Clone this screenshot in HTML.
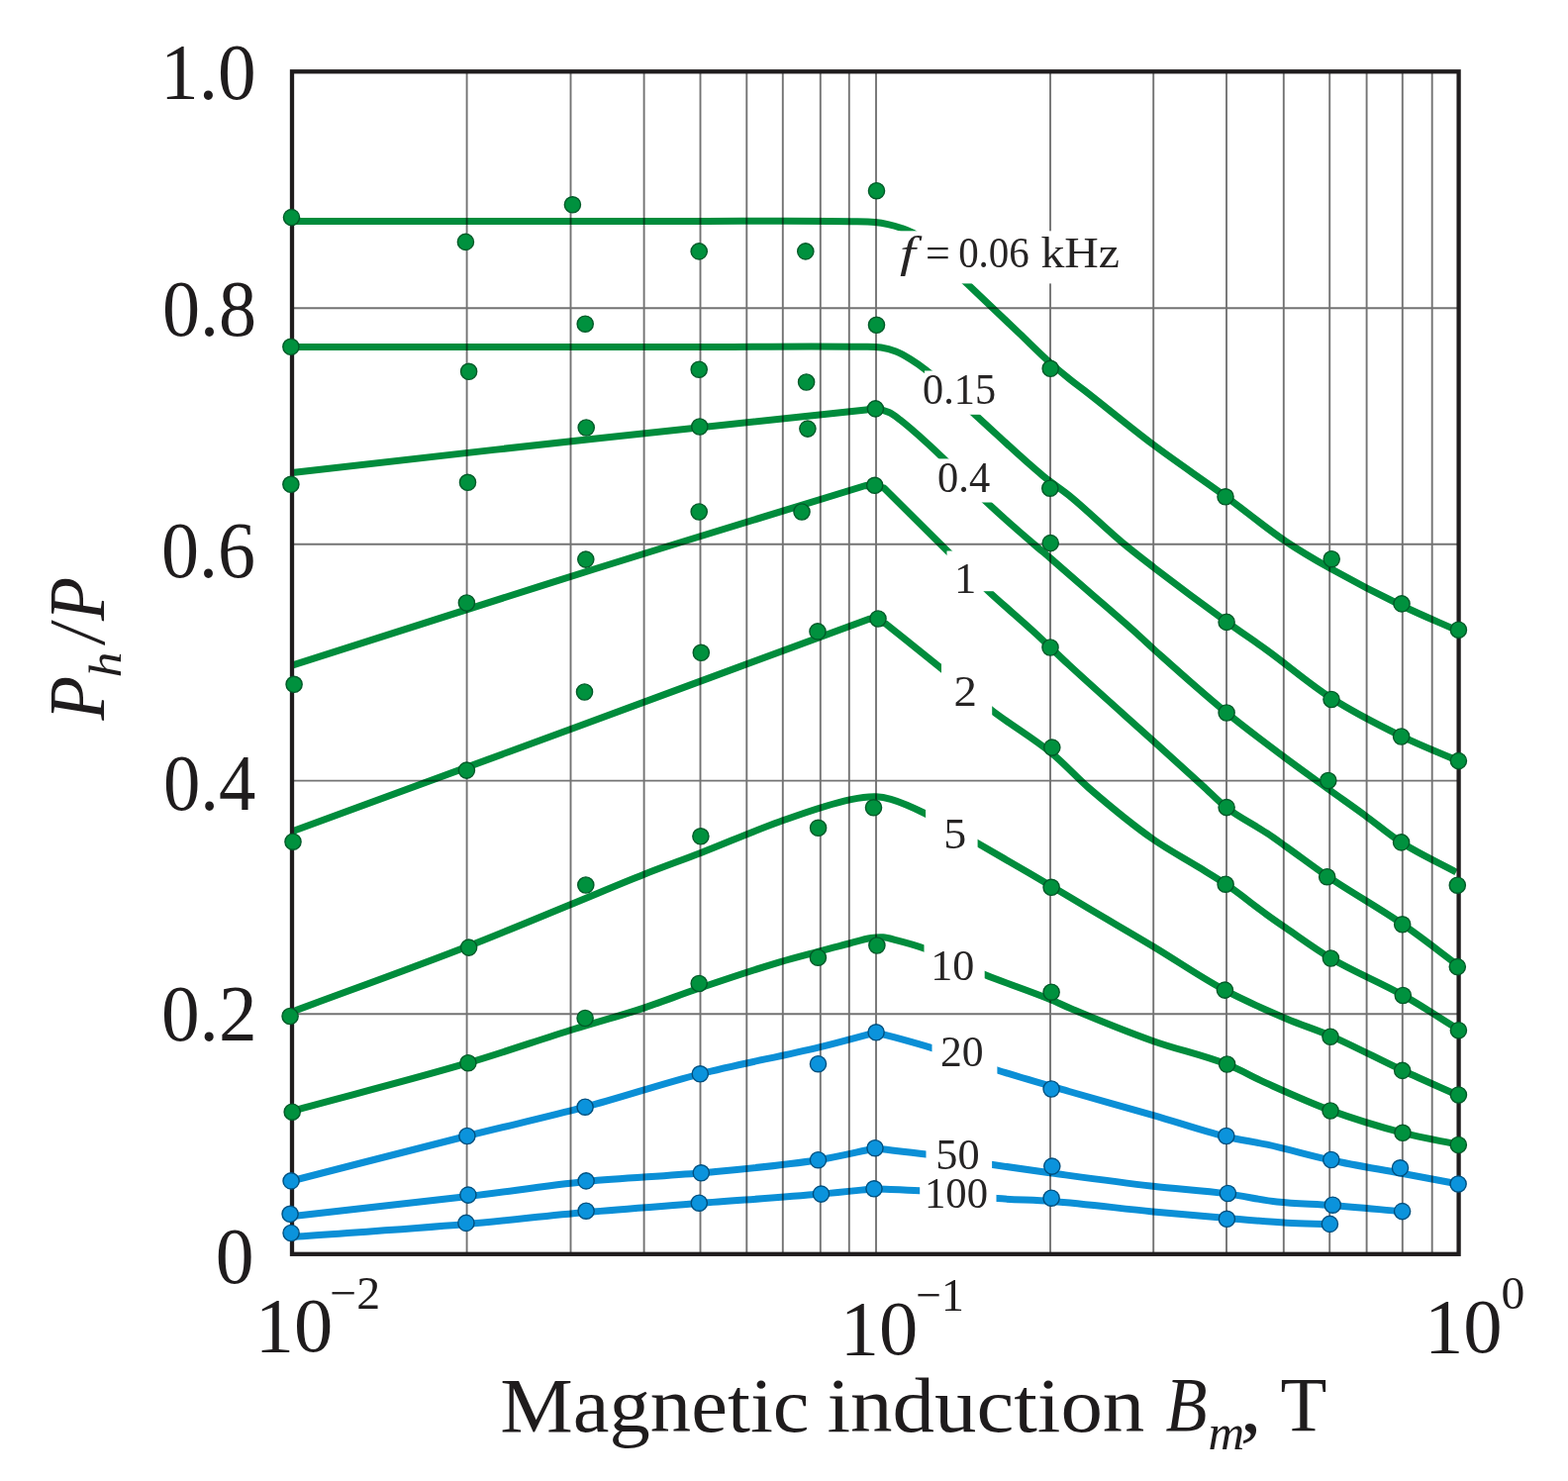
<!DOCTYPE html>
<html><head><meta charset="utf-8"><title>Ph/P versus magnetic induction</title>
<style>
html,body{margin:0;padding:0;background:#fff;}
body{width:1584px;height:1496px;overflow:hidden;}
svg{display:block;}
</style></head>
<body>
<svg width="1584" height="1496" viewBox="0 0 1584 1496">
<rect width="1584" height="1496" fill="#fff"/>
<g fill="none" stroke="#008c3c" stroke-width="7.0" stroke-linejoin="round">
<path d="M295.0 223.4 C430.0 223.4 565.0 223.4 700.0 223.5 C753.3 223.5 806.7 222.7 860.0 223.7 C868.0 223.9 876.0 223.8 884.0 224.6 C888.4 225.0 892.7 225.7 897.0 226.6 C901.4 227.5 905.8 228.7 910.0 230.2 C915.1 232.0 920.5 233.8 925.0 236.8 C945.0 250.2 959.8 270.2 977.2 286.8 C994.8 303.6 1012.4 320.3 1030.0 337.0 C1040.3 346.8 1050.4 357.0 1061.0 366.5 C1067.2 372.0 1073.5 377.3 1080.0 382.5 C1084.9 386.4 1090.0 390.1 1095.0 394.0 C1118.5 412.3 1141.4 431.4 1165.2 449.3 C1189.1 467.3 1214.1 483.8 1238.2 501.5 C1258.6 516.4 1278.0 532.8 1299.0 547.0 C1313.4 556.7 1328.5 565.5 1343.6 574.0 C1367.5 587.4 1391.9 600.1 1416.6 612.0 C1435.3 621.1 1454.6 629.0 1473.6 637.5"/>
<path d="M295.0 350.6 C430.0 350.6 565.0 350.6 700.0 350.5 C756.7 350.5 813.3 349.3 870.0 350.3 C876.7 350.4 883.4 350.0 890.0 351.0 C895.1 351.8 900.2 353.1 905.0 355.0 C910.3 357.1 915.2 360.0 920.0 363.0 C925.6 366.4 930.9 370.2 936.0 374.3 C953.2 388.1 968.6 404.0 985.0 418.8 C1008.0 439.6 1030.1 461.3 1054.0 481.0 C1062.4 487.9 1071.6 493.7 1080.0 500.5 C1098.7 515.8 1115.8 533.0 1134.3 548.5 C1144.4 556.9 1154.8 564.9 1165.2 572.9 C1189.6 591.6 1214.3 610.0 1239.2 628.1 C1252.7 637.9 1266.5 647.1 1280.0 656.8 C1302.0 672.7 1322.6 690.9 1345.5 705.5 C1367.9 719.8 1391.7 731.9 1415.6 743.6 C1434.5 752.8 1454.3 760.4 1473.6 768.8"/>
<path d="M295.0 477.4 C396.7 466.0 498.3 454.3 600.0 443.2 C691.6 433.2 783.3 423.7 875.0 414.0 C878.2 413.7 881.3 412.8 884.5 413.0 C889.1 413.3 893.8 414.6 898.0 416.5 C902.1 418.3 905.6 421.3 909.2 424.0 C924.3 435.7 938.2 448.9 952.0 462.0 C967.5 476.7 981.5 492.8 997.0 507.5 C1012.3 522.0 1028.3 535.7 1044.2 549.5 C1049.8 554.4 1055.6 559.1 1061.3 564.0 C1072.7 573.8 1084.0 583.7 1095.3 593.6 C1113.0 609.1 1130.9 624.3 1148.4 640.0 C1154.1 645.1 1159.5 650.4 1165.2 655.5 C1189.6 677.3 1213.9 699.3 1239.2 720.0 C1258.0 735.4 1277.5 749.9 1296.9 764.4 C1311.9 775.6 1327.2 786.5 1342.4 797.5 C1354.6 806.3 1366.9 814.8 1379.0 823.7 C1391.3 832.7 1402.8 842.8 1415.6 851.0 C1433.3 862.3 1452.5 871.0 1471.0 881.0"/>
<path d="M295.0 672.1 C396.7 639.7 498.2 606.9 600.0 575.0 C691.3 546.4 782.9 518.7 874.3 490.5 C880.5 491.3 886.8 492.2 893.0 493.0 C914.5 514.3 935.9 535.7 957.5 557.0 C971.1 570.4 984.5 584.1 998.5 597.2 C1014.1 611.8 1030.6 625.5 1046.3 640.0 C1057.7 650.5 1068.6 661.3 1080.0 671.8 C1108.1 697.7 1136.8 723.0 1165.2 748.6 C1181.8 763.6 1198.3 778.6 1214.8 793.6 C1223.0 801.0 1230.4 809.3 1239.2 816.0 C1252.0 825.8 1266.6 832.8 1280.0 841.7 C1286.3 845.9 1292.5 850.4 1298.7 854.8 C1313.1 865.0 1327.1 875.8 1341.7 885.7 C1366.2 902.3 1392.2 916.6 1416.6 933.4 C1435.8 946.6 1454.0 961.1 1472.7 975.0"/>
<path d="M296.0 839.5 C390.7 804.7 485.4 770.0 580.0 735.2 C679.4 698.6 778.7 661.9 878.1 625.2 C883.6 626.8 889.1 628.4 894.6 630.0 C913.4 645.1 932.3 660.1 951.0 675.3 C968.3 689.4 984.8 704.4 1002.5 718.0 C1022.0 733.0 1043.5 745.4 1062.6 761.0 C1075.8 771.8 1087.1 784.8 1100.0 796.0 C1121.0 814.2 1142.4 832.1 1165.2 848.0 C1179.9 858.3 1195.8 866.6 1211.0 876.0 C1220.4 881.8 1230.0 887.4 1239.2 893.7 C1253.2 903.3 1266.3 914.2 1280.0 924.1 C1286.2 928.6 1292.4 932.9 1298.7 937.2 C1313.9 947.6 1328.7 958.7 1344.5 968.0 C1368.1 981.9 1393.7 992.0 1417.5 1005.4 C1436.6 1016.2 1454.9 1028.5 1473.6 1040.0"/>
<path d="M294.0 1022.4 C353.9 1000.1 414.1 978.7 473.6 955.5 C509.3 941.6 544.6 926.7 580.0 912.2 C603.7 902.5 627.3 892.4 651.2 883.0 C670.0 875.6 689.1 868.8 708.0 861.5 C734.6 851.2 760.7 839.5 787.6 830.0 C811.3 821.6 835.0 812.7 859.6 807.6 C867.9 805.9 876.5 804.5 885.0 804.8 C890.1 805.0 895.1 806.0 900.0 807.4 C912.2 810.9 923.7 816.4 935.1 822.0 C953.3 830.9 970.4 841.9 988.0 852.0 C1012.7 866.2 1037.3 880.5 1061.8 895.0 C1074.6 902.5 1087.2 910.2 1100.0 917.8 C1121.7 930.7 1143.6 943.2 1165.2 956.2 C1189.3 970.7 1212.5 986.9 1237.3 1000.2 C1257.6 1011.0 1278.8 1020.2 1300.0 1029.2 C1314.7 1035.5 1330.0 1040.2 1344.7 1046.6 C1369.2 1057.2 1392.6 1070.0 1416.8 1081.2 C1435.3 1089.8 1454.0 1097.9 1472.6 1106.2"/>
<path d="M295.2 1122.2 C354.4 1106.0 414.0 1091.1 472.9 1073.7 C508.8 1063.1 544.2 1050.6 580.0 1039.5 C603.5 1032.2 627.2 1025.8 650.6 1018.1 C669.3 1011.9 687.6 1004.6 706.2 998.3 C733.2 989.1 760.3 980.0 787.6 971.8 C801.0 967.8 814.6 964.4 828.1 960.8 C838.1 958.1 848.1 955.6 858.1 953.0 C865.4 951.1 872.6 948.6 880.0 947.5 C884.0 946.9 888.0 946.5 892.0 946.8 C896.4 947.1 900.7 948.5 905.0 949.6 C914.6 952.0 924.2 954.6 933.5 958.0 C954.4 965.6 974.1 976.1 994.7 984.5 C1017.0 993.5 1039.9 1000.8 1062.1 1010.0 C1068.1 1012.5 1074.0 1015.5 1080.0 1018.0 C1108.1 1029.9 1136.4 1041.5 1165.2 1051.7 C1189.6 1060.4 1215.1 1065.6 1239.2 1075.1 C1253.2 1080.6 1266.3 1088.2 1280.0 1094.4 C1301.1 1103.9 1322.2 1113.6 1344.0 1121.6 C1368.1 1130.4 1392.7 1137.9 1417.5 1144.4 C1435.9 1149.2 1454.8 1152.3 1473.4 1156.2"/>
</g>
<g fill="none" stroke="#0b8fd6" stroke-width="7.0" stroke-linejoin="round">
<path d="M294.0 1193.0 C353.3 1177.8 412.5 1162.4 471.9 1147.5 C511.6 1137.5 551.6 1128.7 591.1 1118.2 C630.0 1107.8 668.3 1094.8 707.3 1084.8 C747.4 1074.5 788.3 1067.4 828.5 1057.6 C847.5 1053.0 866.2 1047.7 885.1 1042.8 C903.9 1048.1 922.8 1052.9 941.5 1058.7 C963.7 1065.6 985.3 1074.0 1007.4 1081.0 C1031.5 1088.6 1055.8 1095.5 1080.0 1102.5 C1108.4 1110.7 1136.8 1118.4 1165.2 1126.6 C1189.6 1133.6 1213.6 1142.1 1238.2 1148.1 C1252.0 1151.5 1266.1 1153.2 1280.0 1156.2 C1301.7 1160.9 1323.0 1167.3 1344.7 1172.0 C1367.9 1177.0 1391.3 1180.7 1414.6 1185.0 C1434.2 1188.7 1453.8 1192.3 1473.4 1196.0"/>
<path d="M296.0 1228.5 C355.0 1221.8 414.0 1215.5 472.9 1208.5 C512.7 1203.8 552.3 1197.5 592.1 1193.5 C630.7 1189.6 669.6 1188.4 708.3 1184.8 C747.8 1181.1 787.3 1177.8 826.5 1171.7 C845.8 1168.7 864.8 1163.9 884.0 1160.0 C901.2 1162.0 918.4 1163.7 935.5 1166.0 C958.0 1169.1 980.3 1173.1 1002.8 1176.5 C1022.7 1179.5 1042.6 1182.3 1062.5 1185.0 C1096.6 1189.6 1130.6 1194.3 1164.8 1198.3 C1189.7 1201.2 1214.8 1202.6 1239.6 1205.9 C1256.5 1208.1 1273.1 1212.1 1290.0 1214.0 C1308.4 1216.1 1326.9 1216.1 1345.4 1217.5 C1369.2 1219.3 1393.0 1221.7 1416.8 1223.8"/>
<path d="M296.0 1249.5 C354.3 1245.2 412.7 1241.5 470.9 1236.5 C511.3 1233.0 551.7 1228.1 592.1 1224.5 C630.1 1221.1 668.2 1218.5 706.3 1215.5 C747.4 1212.3 788.5 1209.7 829.5 1206.1 C847.4 1204.5 865.2 1202.6 883.0 1200.8 C898.4 1201.5 913.8 1201.7 929.2 1202.8 C955.4 1204.7 981.4 1208.6 1007.6 1210.6 C1025.9 1212.0 1044.2 1212.0 1062.5 1213.4 C1096.7 1216.0 1130.7 1220.6 1164.8 1223.9 C1189.7 1226.3 1214.7 1228.4 1239.6 1230.5 C1259.7 1232.2 1279.8 1234.1 1300.0 1235.2 C1314.4 1236.0 1328.8 1236.1 1343.2 1236.6"/>
</g>
<path d="M471.6 72.3V1266.8 M576.5 72.3V1266.8 M650.6 72.3V1266.8 M707.5 72.3V1266.8 M754.3 72.3V1266.8 M790.8 72.3V1266.8 M828.8 72.3V1266.8 M857.8 72.3V1266.8 M885.0 72.3V1266.8 M1061.0 72.3V1266.8 M1165.2 72.3V1266.8 M1239.0 72.3V1266.8 M1296.8 72.3V1266.8 M1343.2 72.3V1266.8 M1380.6 72.3V1266.8 M1416.8 72.3V1266.8 M1446.7 72.3V1266.8 M295.0 311.3H1473.6 M295.0 549.8H1473.6 M295.0 788.6H1473.6 M295.0 1024.2H1473.6" stroke="#000" stroke-opacity="0.55" stroke-width="1.9" fill="none"/>
<rect x="900" y="233.3" width="235.0" height="53.1" fill="#fff"/>
<rect x="934" y="374.5" width="74.0" height="44.3" fill="#fff"/>
<rect x="940" y="463.4" width="66.0" height="44.1" fill="#fff"/>
<rect x="956.5" y="556.5" width="53.5" height="40.7" fill="#fff"/>
<rect x="951" y="662" width="51.2" height="64.0" fill="#fff"/>
<rect x="935.1" y="810" width="52.5" height="54.0" fill="#fff"/>
<rect x="933.5" y="950" width="61.2" height="46.0" fill="#fff"/>
<rect x="941.5" y="1045" width="65.9" height="47.0" fill="#fff"/>
<rect x="935.5" y="1150" width="66.6" height="39.0" fill="#fff"/>
<rect x="929.2" y="1192" width="77.3" height="30.0" fill="#fff"/>
<rect x="295.0" y="72.3" width="1178.6" height="1194.5" fill="none" stroke="#1f1c1d" stroke-width="4.3"/>
<g fill="#00913e" stroke="#005a28" stroke-width="1.4">
<circle cx="294.5" cy="219.6" r="8.1"/>
<circle cx="470.4" cy="244.4" r="8.1"/>
<circle cx="578.4" cy="206.8" r="8.1"/>
<circle cx="706.2" cy="253.9" r="8.1"/>
<circle cx="813.8" cy="253.9" r="8.1"/>
<circle cx="885.5" cy="192.7" r="8.1"/>
<circle cx="1061.2" cy="372.3" r="8.1"/>
<circle cx="1238" cy="501.8" r="8.1"/>
<circle cx="1345.2" cy="564.7" r="8.1"/>
<circle cx="1416" cy="609.9" r="8.1"/>
<circle cx="1473.4" cy="636.2" r="8.1"/>
<circle cx="293.9" cy="350.3" r="8.1"/>
<circle cx="473.6" cy="375.3" r="8.1"/>
<circle cx="591.2" cy="327.2" r="8.1"/>
<circle cx="706.2" cy="373.2" r="8.1"/>
<circle cx="814.6" cy="386" r="8.1"/>
<circle cx="885.5" cy="328.3" r="8.1"/>
<circle cx="1060.8" cy="493.2" r="8.1"/>
<circle cx="1239.1" cy="628.4" r="8.1"/>
<circle cx="1345" cy="706.5" r="8.1"/>
<circle cx="1415.6" cy="744" r="8.1"/>
<circle cx="1473.4" cy="768.6" r="8.1"/>
<circle cx="293.9" cy="489.3" r="8.1"/>
<circle cx="472.5" cy="487.3" r="8.1"/>
<circle cx="592.2" cy="432" r="8.1"/>
<circle cx="706.8" cy="431" r="8.1"/>
<circle cx="815.9" cy="433.1" r="8.1"/>
<circle cx="884.4" cy="412.9" r="8.1"/>
<circle cx="1061.2" cy="548.6" r="8.1"/>
<circle cx="1239.1" cy="720" r="8.1"/>
<circle cx="1341.8" cy="788.5" r="8.1"/>
<circle cx="1415.6" cy="850.9" r="8.1"/>
<circle cx="1472.3" cy="894.2" r="8.1"/>
<circle cx="297.1" cy="691.3" r="8.1"/>
<circle cx="471.4" cy="609" r="8.1"/>
<circle cx="591.8" cy="565.1" r="8.1"/>
<circle cx="706.2" cy="517" r="8.1"/>
<circle cx="810" cy="517" r="8.1"/>
<circle cx="883.7" cy="490.3" r="8.1"/>
<circle cx="1061" cy="654" r="8.1"/>
<circle cx="1239.1" cy="815.6" r="8.1"/>
<circle cx="1340.7" cy="885.7" r="8.1"/>
<circle cx="1416.7" cy="933.8" r="8.1"/>
<circle cx="1472.3" cy="976.6" r="8.1"/>
<circle cx="296" cy="850.2" r="8.1"/>
<circle cx="471.4" cy="778.1" r="8.1"/>
<circle cx="590.5" cy="699" r="8.1"/>
<circle cx="708.3" cy="659.3" r="8.1"/>
<circle cx="826" cy="637.9" r="8.1"/>
<circle cx="887" cy="625" r="8.1"/>
<circle cx="1062.8" cy="755.1" r="8.1"/>
<circle cx="1238.1" cy="893.2" r="8.1"/>
<circle cx="1344.4" cy="968" r="8.1"/>
<circle cx="1417.3" cy="1005.5" r="8.1"/>
<circle cx="1473.4" cy="1040.7" r="8.1"/>
<circle cx="293.1" cy="1026.5" r="8.1"/>
<circle cx="473.6" cy="957.1" r="8.1"/>
<circle cx="591.8" cy="894" r="8.1"/>
<circle cx="707.9" cy="844.8" r="8.1"/>
<circle cx="826.6" cy="836.3" r="8.1"/>
<circle cx="882.5" cy="815.8" r="8.1"/>
<circle cx="1062.1" cy="896.3" r="8.1"/>
<circle cx="1237.4" cy="1000.1" r="8.1"/>
<circle cx="1344" cy="1047.2" r="8.1"/>
<circle cx="1416.7" cy="1081.4" r="8.1"/>
<circle cx="1473.4" cy="1106" r="8.1"/>
<circle cx="295.2" cy="1123.2" r="8.1"/>
<circle cx="472.9" cy="1073.7" r="8.1"/>
<circle cx="591.1" cy="1028.5" r="8.1"/>
<circle cx="706.2" cy="993.5" r="8.1"/>
<circle cx="826.4" cy="967.2" r="8.1"/>
<circle cx="885.9" cy="955" r="8.1"/>
<circle cx="1062.1" cy="1002.2" r="8.1"/>
<circle cx="1239.6" cy="1075" r="8.1"/>
<circle cx="1344" cy="1122" r="8.1"/>
<circle cx="1417" cy="1144.3" r="8.1"/>
<circle cx="1473.3" cy="1156.5" r="8.1"/>
</g>
<g fill="#0b93dc" stroke="#00507f" stroke-width="1.4">
<circle cx="294.1" cy="1192.9" r="8.1"/>
<circle cx="471.9" cy="1147.5" r="8.1"/>
<circle cx="591.1" cy="1118.2" r="8.1"/>
<circle cx="707.3" cy="1084.8" r="8.1"/>
<circle cx="826.5" cy="1074.7" r="8.1"/>
<circle cx="885.1" cy="1042.8" r="8.1"/>
<circle cx="1062.1" cy="1100" r="8.1"/>
<circle cx="1238.8" cy="1147.5" r="8.1"/>
<circle cx="1344.8" cy="1171.5" r="8.1"/>
<circle cx="1414.5" cy="1179.8" r="8.1"/>
<circle cx="1473.1" cy="1196" r="8.1"/>
<circle cx="293.1" cy="1226.3" r="8.1"/>
<circle cx="472.9" cy="1207.1" r="8.1"/>
<circle cx="592.1" cy="1192.9" r="8.1"/>
<circle cx="708.3" cy="1184.8" r="8.1"/>
<circle cx="826.5" cy="1171.7" r="8.1"/>
<circle cx="884" cy="1159.7" r="8.1"/>
<circle cx="1062.8" cy="1178.1" r="8.1"/>
<circle cx="1240.4" cy="1205.5" r="8.1"/>
<circle cx="1346.3" cy="1217.2" r="8.1"/>
<circle cx="1416.6" cy="1223.6" r="8.1"/>
<circle cx="294.1" cy="1245.5" r="8.1"/>
<circle cx="470.9" cy="1235.4" r="8.1"/>
<circle cx="592.1" cy="1223.2" r="8.1"/>
<circle cx="706.3" cy="1215.2" r="8.1"/>
<circle cx="829.5" cy="1206.1" r="8.1"/>
<circle cx="883" cy="1200.8" r="8.1"/>
<circle cx="1062.1" cy="1210.2" r="8.1"/>
<circle cx="1239.4" cy="1231.3" r="8.1"/>
<circle cx="1343.4" cy="1236.4" r="8.1"/>
</g>
<g font-family="'Liberation Serif', serif">
<text transform="translate(909.04 269.60) scale(1.3000 1)" font-size="44" font-style="italic" fill="#262424">f</text>
<text transform="translate(934.91 269.60)" font-size="44" fill="#262424">=</text>
<text transform="translate(968.14 269.60) scale(0.9309 1)" font-size="44" fill="#262424">0.06</text>
<text transform="translate(1051.39 269.60) scale(1.0850 1)" font-size="44" fill="#262424">kHz</text>
<text transform="translate(932.09 408.30) scale(0.9605 1)" font-size="44" fill="#262424">0.15</text>
<text transform="translate(947.08 496.60) scale(0.9651 1)" font-size="44" fill="#262424">0.4</text>
<text transform="translate(963.88 598.60) scale(1.0135 1)" font-size="44" fill="#262424">1</text>
<text transform="translate(963.44 713.00) scale(1.0658 1)" font-size="44" fill="#262424">2</text>
<text transform="translate(953.13 857.20) scale(1.0437 1)" font-size="44" fill="#262424">5</text>
<text transform="translate(940.22 990.20) scale(1.0037 1)" font-size="44" fill="#262424">10</text>
<text transform="translate(949.98 1076.70) scale(0.9928 1)" font-size="44" fill="#262424">20</text>
<text transform="translate(945.22 1181.00) scale(1.0084 1)" font-size="44" fill="#262424">50</text>
<text transform="translate(933.95 1220.00) scale(0.9709 1)" font-size="44" fill="#262424">100</text>
<text transform="translate(162.01 99.50) scale(0.9545 1)" font-size="81" fill="#1f1c1d">1.0</text>
<text transform="translate(163.90 338.60) scale(0.9403 1)" font-size="81" fill="#1f1c1d">0.8</text>
<text transform="translate(163.01 583.30) scale(0.9378 1)" font-size="81" fill="#1f1c1d">0.6</text>
<text transform="translate(164.95 817.60) scale(0.9226 1)" font-size="81" fill="#1f1c1d">0.4</text>
<text transform="translate(162.96 1050.70) scale(0.9542 1)" font-size="81" fill="#1f1c1d">0.2</text>
<text transform="translate(217.64 1295.80) scale(0.9583 1)" font-size="81" fill="#1f1c1d">0</text>
<text transform="translate(257.80 1365.40) scale(0.9935 1)" font-size="79" fill="#1f1c1d">10</text>
<text transform="translate(333.32 1321.70) scale(1.0184 1)" font-size="47" fill="#1f1c1d">−2</text>
<text transform="translate(848.69 1367.60) scale(0.9950 1)" font-size="79" fill="#1f1c1d">10</text>
<text transform="translate(925.32 1323.60) scale(0.9723 1)" font-size="47" fill="#1f1c1d">−1</text>
<text transform="translate(1438.98 1366.40) scale(0.9964 1)" font-size="79" fill="#1f1c1d">10</text>
<text transform="translate(1516.48 1322.30) scale(1.0141 1)" font-size="47" fill="#1f1c1d">0</text>
<text transform="translate(505.32 1446.00) scale(1.0466 1)" font-size="79" fill="#1f1c1d">Magnetic</text>
<text transform="translate(835.42 1446.20) scale(1.0756 1)" font-size="79" fill="#1f1c1d">induction</text>
<text transform="translate(1177.46 1445.30) scale(0.8692 1)" font-size="79" font-style="italic" fill="#1f1c1d">B</text>
<text transform="translate(1220.47 1463.70) scale(1.0155 1)" font-size="50" font-style="italic" fill="#1f1c1d">m</text>
<text transform="translate(1252.68 1446.00) scale(1.1050 1)" font-size="79" fill="#1f1c1d">,</text>
<text transform="translate(1293.41 1445.30) scale(0.9711 1)" font-size="79" fill="#1f1c1d">T</text>
<text transform="translate(104.60 727.61) rotate(-90) scale(0.9140 1)" font-size="80" font-style="italic" fill="#1f1c1d">P</text>
<text transform="translate(122.20 684.35) rotate(-90) scale(1.0881 1)" font-size="47" font-style="italic" fill="#1f1c1d">h</text>
<text transform="translate(104.60 649.11) rotate(-90) scale(0.8000 1)" font-size="80" font-style="italic" fill="#1f1c1d">/</text>
<text transform="translate(104.60 627.01) rotate(-90) scale(0.9013 1)" font-size="80" font-style="italic" fill="#1f1c1d">P</text>
</g>
</svg>
</body></html>
